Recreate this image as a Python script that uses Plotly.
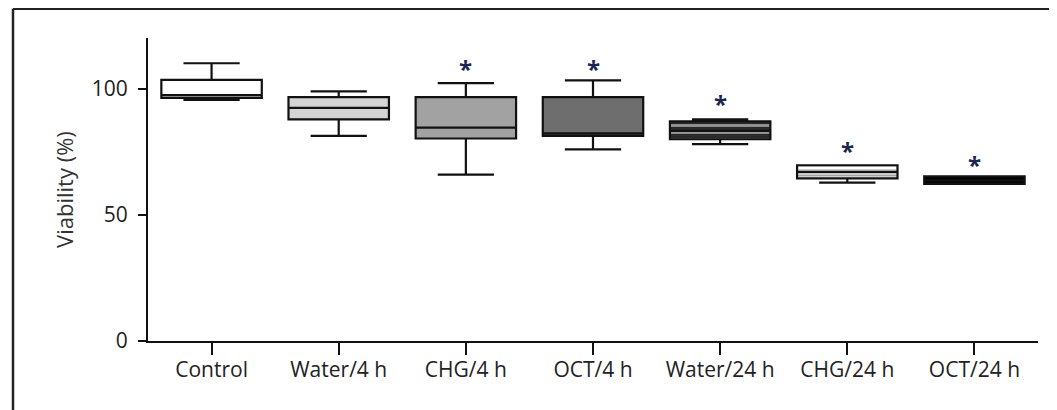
import plotly.graph_objects as go

categories = ["Control", "Water/4 h", "CHG/4 h", "OCT/4 h", "Water/24 h", "CHG/24 h", "OCT/24 h"]
lower = [95.5, 81.2, 65.9, 75.9, 78.0, 62.7, 62.2]
q1 = [96.3, 87.8, 80.2, 81.2, 79.9, 64.4, 62.2]
median = [97.4, 92.3, 84.5, 82.2, 83.2, 66.9, 63.6]
q3 = [103.4, 96.6, 96.6, 96.6, 87.0, 69.6, 65.2]
upper = [110.0, 98.9, 102.1, 103.2, 87.8, 69.6, 65.2]
fills = ["#ffffff", "#d4d4d4", "#a2a2a2", "#6e6e6e", None, None, "#000000"]
star_groups = ["CHG/4 h", "OCT/4 h", "Water/24 h", "CHG/24 h", "OCT/24 h"]
star_y = [108.0, 108.0, 94.0, 75.5, 70.0]
y_ticks = [0, 50, 100]

fig = go.Figure()

# patterned boxes (Water/24 h and CHG/24 h)
pat_idx = [i for i, f in enumerate(fills) if f is None]
fig.add_trace(go.Bar(
    x=[categories[i] for i in pat_idx],
    base=[q1[i] for i in pat_idx],
    y=[q3[i] - q1[i] for i in pat_idx],
    width=0.79,
    marker=dict(
        color=["#2a2a2a", "#ffffff"],
        line=dict(width=0),
        pattern=dict(shape=["-", "-"], fgcolor=["#f4f4f4", "#1a1a1a"],
                     bgcolor=["#2a2a2a", "#ffffff"], size=[7, 5], solidity=[0.4, 0.4]),
    ),
    showlegend=False, hoverinfo="skip",
))

for i, c in enumerate(categories):
    fig.add_trace(go.Box(
        x=[c], q1=[q1[i]], median=[median[i]], q3=[q3[i]],
        lowerfence=[lower[i]], upperfence=[upper[i]],
        width=0.79, whiskerwidth=0.56,
        fillcolor=fills[i] if fills[i] else "rgba(0,0,0,0)",
        line=dict(color="#111111", width=2.2),
        boxpoints=False, showlegend=False, hoverinfo="skip",
    ))

for g, yv in zip(star_groups, star_y):
    fig.add_annotation(x=g, y=yv, text="<b>*</b>", showarrow=False,
                       font=dict(family="Open Sans", size=24, color="#1b2550"),
                       yanchor="middle")

# page has an 8 px body margin, so the figure origin sits at (8, 8)
W, H = 1049, 402
L, R, T, B = 140, 19, 30, 69
pw, ph = W - L - R, H - T - B
fx = (5 - L) / pw
fy = 1 + (T - 0.8) / ph
fig.add_shape(type="line", xref="paper", yref="paper", x0=fx, x1=fx, y0=-1, y1=fy,
              line=dict(color="#222222", width=2.5))
fig.add_shape(type="line", xref="paper", yref="paper", x0=fx, x1=1.2, y0=fy, y1=fy,
              line=dict(color="#222222", width=2.5))

fig.update_layout(
    width=W, height=H,
    margin=dict(l=L, r=R, t=T, b=B),
    plot_bgcolor="white", paper_bgcolor="white",
    barmode="overlay", boxmode="overlay",
    font=dict(family="Open Sans", color="#222222"),
)
fig.update_xaxes(
    type="category", categoryorder="array", categoryarray=categories,
    range=[-0.5, 6.5], showline=True, linecolor="#111111", linewidth=2,
    ticks="outside", ticklen=12, tickwidth=2, tickcolor="#111111",
    tickfont=dict(family="Open Sans", size=21, color="#222222"),
    showgrid=False, zeroline=False, ticklabelstandoff=-3,
)
fig.update_yaxes(
    range=[0, 120], tickvals=y_ticks, showline=True, linecolor="#111111", linewidth=2,
    ticks="outside", ticklen=8, tickwidth=2, tickcolor="#111111",
    tickfont=dict(family="Open Sans", size=21, color="#222222"),
    showgrid=False, zeroline=False, ticklabelstandoff=6,
    title=dict(text="Viability (%)", font=dict(family="Open Sans", size=22, color="#333333"), standoff=12),
)

fig.write_html("out.html")
